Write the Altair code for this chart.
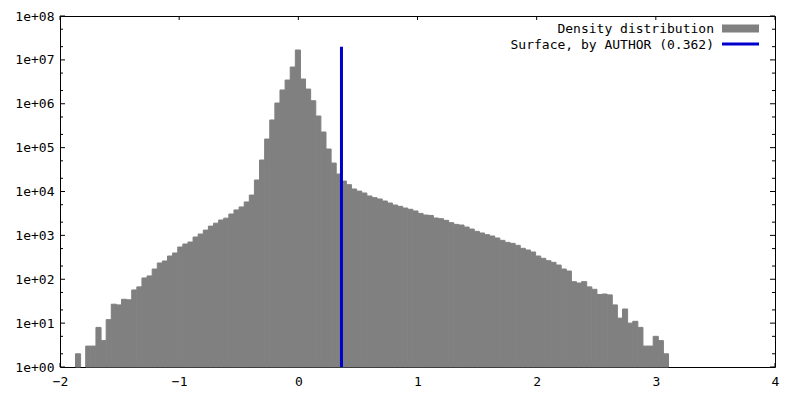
import altair as alt
import pandas as pd

# ---- data ----
counts = [
    2, 0, 3, 3, 8, 4, 12, 27, 26, 35,
    34, 57, 67, 107, 119, 171, 235, 261, 339, 397,
    543, 636, 706, 918, 1073, 1318, 1625, 1900, 2240, 2470,
    3070, 3800, 4450, 5780, 8300, 18300, 52200, 157000, 427000, 1040000,
    2060000, 3470000, 6870000, 16800000, 3660000, 2160000, 1170000, 525000, 227000, 93000,
    44500, 25000, 17300, 14300, 11400, 10200, 9250, 7900, 7240, 6750,
    6070, 5470, 4920, 4590, 4200, 3930, 3600, 3170, 2910, 2850,
    2490, 2400, 2200, 1950, 1780, 1720, 1550, 1395, 1235, 1133,
    1038, 968, 872, 771, 693, 658, 593, 507, 464, 418,
    339, 300, 265, 243, 211, 171, 154, 88, 82, 88,
    67, 59, 45, 46, 44, 26, 13, 21, 10, 11,
    8, 3, 3, 5, 4, 2,
]
bin_start = -1.87
bin_width = 0.0429
surface_value = 0.362
surface_top = 2.0e7
x_ticks = [-2, -1, 0, 1, 2, 3, 4]
y_major = [1e0, 1e1, 1e2, 1e3, 1e4, 1e5, 1e6, 1e7, 1e8]
y_minor = [2e0, 5e0, 2e1, 5e1, 2e2, 5e2, 2e3, 5e3, 2e4, 5e4, 2e5, 5e5, 2e6, 5e6, 2e7, 5e7]
legend_labels = ["Density distribution", "Surface, by AUTHOR (0.362)"]

W, H = 715, 351
FONT = "DejaVu Sans Mono"
GRAY = "#808080"
BLUE = "#0000cc"

rows = []
for i, c in enumerate(counts):
    if c > 0:
        rows.append({"x0": bin_start + i * bin_width,
                     "x1": bin_start + (i + 1) * bin_width,
                     "count": c})
df = pd.DataFrame(rows)

xscale = alt.Scale(domain=[-2, 4], nice=False, zero=False)
yscale = alt.Scale(type="log", domain=[1, 1e8], nice=False)

x_axis = alt.Axis(values=x_ticks, title=None, ticks=False, tickSize=0,
                  domain=False, grid=False, labelFont=FONT,
                  labelFontSize=13, labelColor="black", labelPadding=8,
                  labelFlush=False)
y_axis = alt.Axis(values=y_major, title=None, ticks=False, tickSize=0,
                  domain=False, grid=False, labelFont=FONT,
                  labelFontSize=13, labelColor="black", labelPadding=6,
                  labelFlush=False,
                  labelExpr="'1e+0' + round(log(datum.value)/LN10)")

one = pd.DataFrame({"a": [0]})

# tick marks (inward, mirrored), drawn below the bars
def yticks(vals, length):
    d = pd.DataFrame({"v": vals})
    left = alt.Chart(d).mark_rule(color="black", strokeWidth=1).encode(
        y=alt.Y("v:Q", scale=yscale, axis=y_axis),
        x=alt.value(0), x2=alt.value(length))
    right = alt.Chart(d).mark_rule(color="black", strokeWidth=1).encode(
        y=alt.Y("v:Q", scale=yscale, axis=y_axis),
        x=alt.value(W), x2=alt.value(W - length))
    return [left, right]

xt = pd.DataFrame({"v": x_ticks})
xtick_bottom = alt.Chart(xt).mark_rule(color="black", strokeWidth=1).encode(
    x=alt.X("v:Q", scale=xscale, axis=x_axis),
    y=alt.value(H), y2=alt.value(H - 4))
xtick_top = alt.Chart(xt).mark_rule(color="black", strokeWidth=1).encode(
    x=alt.X("v:Q", scale=xscale, axis=x_axis),
    y=alt.value(0), y2=alt.value(4))

bars = alt.Chart(df).mark_rect(color=GRAY, stroke=GRAY, strokeWidth=1).encode(
    x=alt.X("x0:Q", scale=xscale, axis=x_axis),
    x2="x1:Q",
    y=alt.Y("count:Q", scale=yscale, axis=y_axis),
    y2=alt.datum(1),
)

surface = alt.Chart(pd.DataFrame({"x": [surface_value], "y0": [1.0], "y1": [surface_top]})).mark_rule(
    color=BLUE, strokeWidth=3).encode(
    x=alt.X("x:Q", scale=xscale, axis=x_axis),
    y=alt.Y("y0:Q", scale=yscale, axis=y_axis),
    y2="y1:Q")

# legend (gnuplot style: text left of sample)
leg_text1 = alt.Chart(one).mark_text(align="right", baseline="middle", font=FONT,
                                      fontSize=13, color="black", text=legend_labels[0]).encode(
    x=alt.value(654), y=alt.value(12.5))
leg_text2 = alt.Chart(one).mark_text(align="right", baseline="middle", font=FONT,
                                      fontSize=13, color="black", text=legend_labels[1]).encode(
    x=alt.value(654), y=alt.value(29))
leg_box = alt.Chart(one).mark_rect(color=GRAY).encode(
    x=alt.value(662), x2=alt.value(699), y=alt.value(8.5), y2=alt.value(16.5))
leg_line = alt.Chart(one).mark_rule(color=BLUE, strokeWidth=3).encode(
    x=alt.value(662), x2=alt.value(699), y=alt.value(28))

layers = yticks(y_major, 5) + yticks(y_minor, 3) + [xtick_bottom, xtick_top, bars, surface,
                                                     leg_text1, leg_text2, leg_box, leg_line]

chart = alt.layer(*layers).properties(
    width=W, height=H, autosize="none",
    padding={"left": 52, "top": 8, "right": 16, "bottom": 25},
    background="white",
).configure_view(stroke="black", strokeWidth=1)

chart.save("out.html", embed_options={"renderer": "svg", "actions": False})
